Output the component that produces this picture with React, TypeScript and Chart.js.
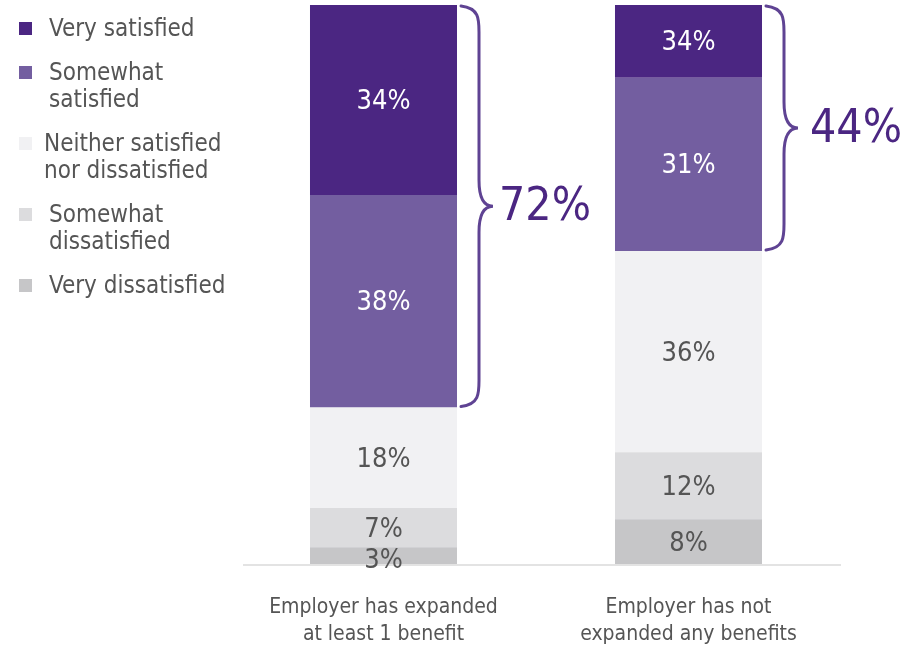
import React, { useEffect, useRef } from "react";
import { Chart, registerables } from "chart.js";

Chart.register(...registerables);

const categories: string[][] = [
  ["Employer has expanded", "at least 1 benefit"],
  ["Employer has not", "expanded any benefits"],
];

const seriesNames = [
  "Very satisfied",
  "Somewhat satisfied",
  "Neither satisfied nor dissatisfied",
  "Somewhat dissatisfied",
  "Very dissatisfied",
];
const legendLines: string[][] = [
  ["Very satisfied"],
  ["Somewhat", "satisfied"],
  ["Neither satisfied", "nor dissatisfied"],
  ["Somewhat", "dissatisfied"],
  ["Very dissatisfied"],
];

// values as drawn (bar heights)
const verySatisfied = [34, 13];
const somewhatSatisfied = [38, 31];
const neitherSatisfied = [18, 36];
const somewhatDissatisfied = [7, 12];
const veryDissatisfied = [3, 8];

// labels as printed on the segments
const verySatisfiedLabels = ["34%", "34%"];
const somewhatSatisfiedLabels = ["38%", "31%"];
const neitherSatisfiedLabels = ["18%", "36%"];
const somewhatDissatisfiedLabels = ["7%", "12%"];
const veryDissatisfiedLabels = ["3%", "8%"];

const totalSatisfiedLabels = ["72%", "44%"];

const colors = ["#4b2682", "#735ea0", "#f1f1f3", "#dcdcde", "#c6c6c8"];
const labelColors = ["#ffffff", "#ffffff", "#555555", "#555555", "#555555"];

const FONT = '"Liberation Sans Narrow", "DejaVu Sans Condensed", "Roboto", sans-serif';

export default function App() {
  const ref = useRef<HTMLCanvasElement | null>(null);

  useEffect(() => {
    if (!ref.current) return;
    const seriesValues = [verySatisfied, somewhatSatisfied, neitherSatisfied, somewhatDissatisfied, veryDissatisfied];
    const seriesLabels = [verySatisfiedLabels, somewhatSatisfiedLabels, neitherSatisfiedLabels, somewhatDissatisfiedLabels, veryDissatisfiedLabels];
    // bottom-first stacking order
    const order = [4, 3, 2, 1, 0];
    const datasets = order.map((i) => ({
      label: seriesNames[i],
      data: seriesValues[i],
      backgroundColor: colors[i],
      borderWidth: 0,
      stack: "s",
      categoryPercentage: 1,
      barPercentage: 0.482,
      _seriesIndex: i,
    }));

    const plugin = {
      id: "custom",
      afterDraw(chart: any) {
        const ctx = chart.ctx;
        const area = chart.chartArea;
        ctx.save();
        // baseline
        ctx.strokeStyle = "#e3e3e3";
        ctx.lineWidth = 2;
        ctx.beginPath();
        ctx.moveTo(area.left + 12, area.bottom + 1);
        ctx.lineTo(area.right, area.bottom + 1);
        ctx.stroke();

        // segment labels
        ctx.textAlign = "center";
        ctx.textBaseline = "middle";
        ctx.font = `27px ${FONT}`;
        chart.data.datasets.forEach((ds: any, di: number) => {
          const meta = chart.getDatasetMeta(di);
          const si = ds._seriesIndex;
          meta.data.forEach((bar: any, j: number) => {
            const yc = (bar.y + bar.base) / 2;
            const h = Math.abs(bar.base - bar.y);
            ctx.fillStyle = labelColors[si];
            ctx.fillText(seriesLabels[si][j], bar.x, yc + (h < 20 ? 5 : 2));
          });
        });

        // braces
        const topMeta = chart.getDatasetMeta(4);
        const secMeta = chart.getDatasetMeta(3);
        topMeta.data.forEach((bar: any, j: number) => {
          const top = bar.y + 1;
          const bottom = secMeta.data[j].base - 1;
          const x0 = bar.x + bar.width / 2 + 4;
          const x1 = x0 + 18;
          const tip = x0 + 32;
          const mid = (top + bottom) / 2;
          const r = 26;
          ctx.strokeStyle = "#5f4393";
          ctx.lineWidth = 3;
          ctx.lineCap = "round";
          ctx.beginPath();
          ctx.moveTo(x0, top);
          ctx.bezierCurveTo(x1, top + 2, x1, top + r * 0.5, x1, top + r);
          ctx.lineTo(x1, mid - r);
          ctx.bezierCurveTo(x1, mid - 6, x1 + 6, mid, tip, mid);
          ctx.bezierCurveTo(x1 + 6, mid, x1, mid + 6, x1, mid + r);
          ctx.lineTo(x1, bottom - r);
          ctx.bezierCurveTo(x1, bottom - r * 0.5, x1, bottom - 2, x0, bottom);
          ctx.stroke();
          ctx.fillStyle = "#4b2682";
          ctx.textAlign = "left";
          ctx.font = `46px ${FONT}`;
          ctx.fillText(totalSatisfiedLabels[j], tip + (j === 0 ? 6 : 12), mid + 2);
        });

        // legend
        ctx.textAlign = "left";
        ctx.textBaseline = "middle";
        ctx.font = `24px ${FONT}`;
        let y = 30;
        legendLines.forEach((lines, i) => {
          ctx.fillStyle = colors[i];
          ctx.fillRect(19, y - 8, 13, 13);
          ctx.fillStyle = "#555555";
          lines.forEach((t, k) => ctx.fillText(t, i === 2 ? 44 : 49, y + k * 27));
          y += lines.length * 27 + 17;
        });
        ctx.restore();
      },
    };

    const chart = new Chart(ref.current, {
      type: "bar",
      data: { labels: categories, datasets: datasets as any },
      options: {
        animation: false,
        responsive: false,
        maintainAspectRatio: false,
        layout: { padding: { left: 231, right: 81, top: 5, bottom: 0 } },
        plugins: { legend: { display: false }, tooltip: { enabled: false } },
        scales: {
          x: {
            stacked: true,
            grid: { display: false, drawTicks: false },
            border: { display: false },
            ticks: {
              color: "#555555",
              font: { family: FONT, size: 21, lineHeight: 1.3 },
              padding: 30,
              maxRotation: 0,
            },
            afterFit: (scale: any) => {
              scale.height = 86;
            },
          },
          y: {
            stacked: true,
            display: false,
            min: 0,
            max: 100,
          },
        },
      },
      plugins: [plugin],
    });
    return () => chart.destroy();
  }, []);

  return (
    <div style={{ position: "absolute", left: 0, top: 0, width: 922, height: 650 }}>
      <canvas ref={ref} width={922} height={650} style={{ width: 922, height: 650 }} />
    </div>
  );
}
